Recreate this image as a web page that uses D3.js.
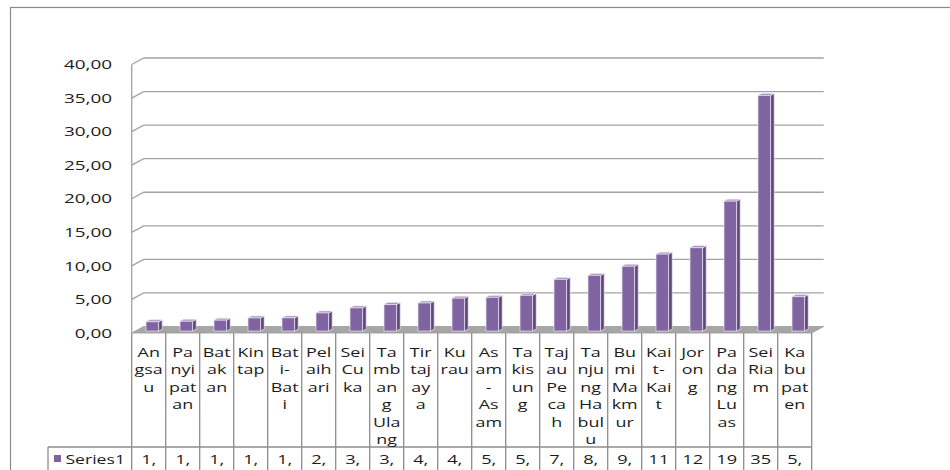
<!DOCTYPE html>
<html>
<head>
<meta charset="utf-8">
<script src="https://cdn.jsdelivr.net/npm/d3@7/dist/d3.min.js"></script>
<style>
  html, body { margin: 0; padding: 0; background: #fff; }
  svg { display: block; }
  text { font-family: "Open Sans", "DejaVu Sans", sans-serif; fill: #1c1c1c; }
</style>
</head>
<body>
<svg id="chart" width="950" height="470"></svg>
<script>
// Sub-district names (kecamatan) and the regency total
const categories = [
  "Angsau", "Panyipatan", "Batakan", "Kintap", "Bati-Bati", "Pelaihari",
  "Sei Cuka", "Tambang Ulang", "Tirtajaya", "Kurau", "Asam-Asam", "Takisung",
  "Tajau Pecah", "Tanjung Habulu", "Bumi Makmur", "Kait-Kait", "Jorong",
  "Padang Luas", "Sei Riam", "Kabupaten"
];

// How each name wraps inside its narrow table column
const categoryLines = [
  ["An", "gsa", "u"], ["Pa", "nyi", "pat", "an"], ["Bat", "ak", "an"],
  ["Kin", "tap"], ["Bat", "i-", "Bat", "i"], ["Pel", "aih", "ari"],
  ["Sei", "Cu", "ka"], ["Ta", "mb", "an", "g", "Ula", "ng"],
  ["Tir", "taj", "ay", "a"], ["Ku", "rau"], ["As", "am", "-", "As", "am"],
  ["Ta", "kis", "un", "g"], ["Taj", "au", "Pe", "ca", "h"],
  ["Ta", "nju", "ng", "Ha", "bul", "u"], ["Bu", "mi", "Ma", "km", "ur"],
  ["Kai", "t-", "Kai", "t"], ["Jor", "on", "g"], ["Pa", "da", "ng", "Lu", "as"],
  ["Sei", "Ria", "m"], ["Ka", "bu", "pat", "en"]
];

const seriesName = "Series1";
const series1 = [
  1.38, 1.46, 1.62, 1.95, 1.97, 2.70, 3.45, 3.95, 4.18, 4.90,
  5.02, 5.32, 7.70, 8.30, 9.65, 11.46, 12.42, 19.35, 35.10, 5.12
];

const yTicks = [0, 5, 10, 15, 20, 25, 30, 35, 40];

// ---- drawing ----
const svg = d3.select("#chart");
const fmt = d3.formatLocale({ decimal: ",", thousands: ".", grouping: [3], currency: ["", ""] }).format(".2f");

const left = 131.7, right = 811.7;
const floorY = 333;          // front edge of the floor
const DX = 12, DY = -6.5;    // depth offset from front to back wall
const TX = 1.5;              // horizontal stretch of axis labels
const TXT = 1.4;             // horizontal stretch of table text

const x = d3.scaleBand().domain(categories).range([left, right]).paddingInner(0).paddingOuter(0);
const y = d3.scaleLinear().domain([0, 40]).range([floorY, 64.5]);

// chart area frame
svg.append("rect")
  .attr("x", 10.5).attr("y", 7.5).attr("width", 1000).attr("height", 1000)
  .attr("fill", "none").attr("stroke", "#8a8a8a").attr("stroke-width", 1.2);

// floor
svg.append("path")
  .attr("d", d3.line()([[left, floorY], [right, floorY], [right + DX, floorY + DY], [left + DX, floorY + DY]]) + "Z")
  .attr("fill", "#a6a6a6").attr("stroke", "#9a9a9a").attr("stroke-width", 0.8);

// gridlines on the left and back walls
const grid = svg.append("g").attr("fill", "none").attr("stroke", "#a3a3a3").attr("stroke-width", 1.3);
yTicks.filter(t => t > 0).forEach(t => {
  grid.append("path").attr("d", d3.line()([
    [left, y(t)], [left + DX, y(t) + DY], [right + DX, y(t) + DY]
  ]));
});
// left wall edge
grid.append("line").attr("x1", left).attr("x2", left).attr("y1", y(40)).attr("y2", floorY);

// y-axis labels
const yLab = svg.append("g");
yTicks.forEach(t => {
  yLab.append("text")
    .attr("transform", `translate(112,${y(t)}) scale(${TX},1)`)
    .attr("text-anchor", "end").attr("dominant-baseline", "central")
    .attr("font-size", 12.6).text(fmt(t));
});

// 3D columns
const f0 = 0.3, f1 = 0.6;
const bw = x.bandwidth() * 0.37;
const ddx = (f1 - f0) * DX, ddy = (f1 - f0) * DY;
const bars = svg.append("g");
categories.forEach((c, i) => {
  const v = series1[i];
  const x0 = x(c) + x.bandwidth() / 2 - bw / 2 + f0 * DX;
  const x1 = x0 + bw;
  const yt = y(v) + f0 * DY;
  const yb = y(0) + f0 * DY;
  const g = bars.append("g").attr("stroke", "#ece6f3").attr("stroke-width", 0.7).attr("stroke-linejoin", "round");
  g.append("path").attr("d", d3.line()([[x1, yt], [x1 + ddx, yt + ddy], [x1 + ddx, yb + ddy], [x1, yb]]) + "Z")
    .attr("fill", "#5c4777");
  g.append("path").attr("d", d3.line()([[x0, yt], [x1, yt], [x1 + ddx, yt + ddy], [x0 + ddx, yt + ddy]]) + "Z")
    .attr("fill", "#a18ebd");
  g.append("rect").attr("x", x0).attr("y", yt).attr("width", bw).attr("height", yb - yt)
    .attr("fill", "#8064a2");
});

// data table below the floor
const rowTop = floorY, rowSplit = 447, tableBottom = 480, legendLeft = 48;
const tbl = svg.append("g").attr("stroke", "#8c8c8c").attr("stroke-width", 1.3).attr("fill", "none");
categories.forEach(c => {
  tbl.append("line").attr("x1", x(c)).attr("x2", x(c)).attr("y1", rowTop).attr("y2", tableBottom);
});
tbl.append("line").attr("x1", right).attr("x2", right).attr("y1", rowTop).attr("y2", tableBottom);
tbl.append("line").attr("x1", legendLeft).attr("x2", right).attr("y1", rowSplit).attr("y2", rowSplit);
tbl.append("line").attr("x1", legendLeft).attr("x2", legendLeft).attr("y1", rowSplit).attr("y2", tableBottom);

// category names, one wrapped label per column
const lineStep = 17.5;
const catG = svg.append("g");
categories.forEach((c, i) => {
  const cx = x(c) + x.bandwidth() / 2;
  const t = catG.append("text")
    .attr("transform", `translate(${cx},352) scale(${TXT},1)`)
    .attr("text-anchor", "middle")
    .attr("font-size", 12.8);
  categoryLines[i].forEach((ln, k) => {
    t.append("tspan").attr("x", 0).attr("y", k * lineStep).attr("dy", "0.36em").text(ln);
  });
});

// value row: text is cut to what fits in a cell
const valG = svg.append("g");
const fitWidth = x.bandwidth() - 10;
categories.forEach((c, i) => {
  const cx = x(c) + x.bandwidth() / 2;
  const t = valG.append("text")
    .attr("transform", `translate(${cx},459) scale(${TXT},1)`)
    .attr("text-anchor", "middle").attr("dominant-baseline", "central")
    .attr("font-size", 13);
  let s = fmt(series1[i]);
  t.text(s);
  while (s.length > 1 && t.node().getComputedTextLength() * TXT > fitWidth) {
    s = s.slice(0, -1);
    t.text(s);
  }
});

// legend cell
svg.append("rect").attr("x", 54).attr("y", 455).attr("width", 7).attr("height", 7).attr("fill", "#8064a2");
svg.append("text")
  .attr("transform", `translate(125,459) scale(${TXT},1)`)
  .attr("text-anchor", "end")
  .attr("dominant-baseline", "central").attr("font-size", 12.6).text(seriesName);
</script>
</body>
</html>
